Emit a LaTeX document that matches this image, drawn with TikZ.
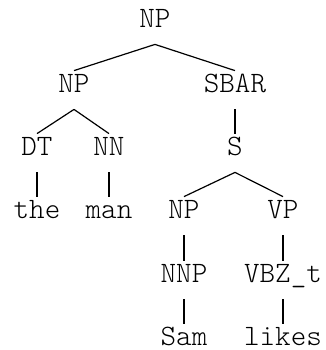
\documentclass[tikz,border=0pt]{standalone}
\usepackage{fontspec}
\setmonofont{Latin Modern Mono Light}
\begin{document}
\begin{tikzpicture}[x=0.5pt,y=-0.5pt,
  tn/.style={font=\ttfamily\fontsize{14.8}{16}\selectfont, inner sep=0pt,
    text height=10.5pt, text depth=8.5pt, anchor=base},
  edge/.style={line width=0.6pt}]
\useasboundingbox (0,0) rectangle (326,350);
\node[tn] (np0) at (155,27) {NP};
\node[tn] (np1) at (74,92) {NP};
\node[tn] (sbar) at (235,92) {SBAR};
\node[tn] (dt) at (37,155) {DT};
\node[tn] (nn) at (109,155) {NN};
\node[tn] (s) at (235,155) {S};
\node[tn] (the) at (37,218) {the};
\node[tn] (man) at (109,218) {man};
\node[tn] (np2) at (184,218) {NP};
\node[tn] (vp) at (283,218) {VP};
\node[tn] (nnp) at (184,282) {NNP};
\node[tn] (vbz) at (283,282) {VBZ\_t};
\node[tn] (sam) at (184,345) {Sam};
\node[tn] (likes) at (283,345) {likes};
\draw[edge] (np0.south) -- (np1.north);
\draw[edge] (np0.south) -- (sbar.north);
\draw[edge] (np1.south) -- (dt.north);
\draw[edge] (np1.south) -- (nn.north);
\draw[edge] (sbar.south) -- (s.north);
\draw[edge] (dt.south) -- (the.north);
\draw[edge] (nn.south) -- (man.north);
\draw[edge] (s.south) -- (np2.north);
\draw[edge] (s.south) -- (vp.north);
\draw[edge] (np2.south) -- (nnp.north);
\draw[edge] (vp.south) -- (vbz.north);
\draw[edge] (nnp.south) -- (sam.north);
\draw[edge] (vbz.south) -- (likes.north);
\end{tikzpicture}
\end{document}
